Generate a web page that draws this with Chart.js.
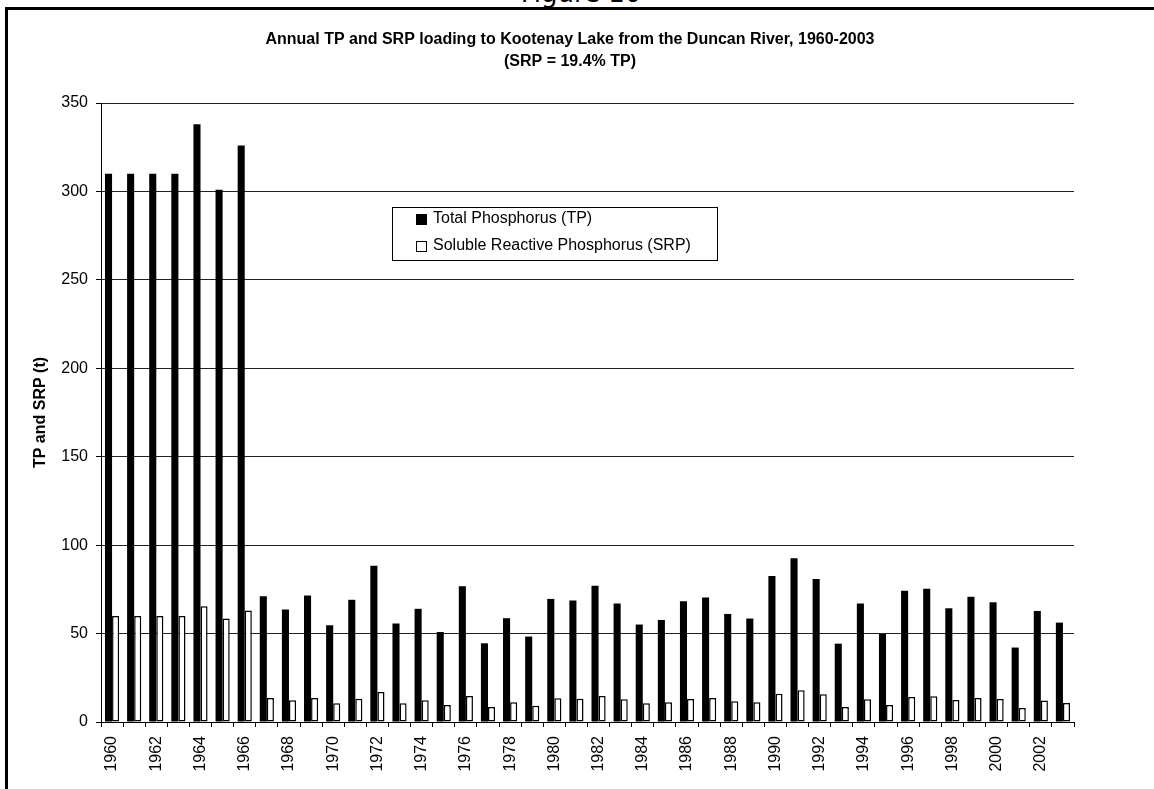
<!DOCTYPE html>
<html>
<head>
<meta charset="utf-8">
<title>Figure 10</title>
<script src="https://cdn.jsdelivr.net/npm/chart.js@4/dist/chart.umd.min.js"></script>
<style>
    body { margin: 0; background: #fff; }
    #wrap { position: relative; width: 1154px; height: 789px; overflow: hidden; }
    #frame { position: absolute; left: 5px; top: 7px; right: -10px; bottom: -10px; border-top: 3px solid #000; border-left: 3px solid #000; }
    #figLabel { position: absolute; left: 481px; width: 200px; top: -20px; text-align: center; font: 26px/26px "DejaVu Sans", sans-serif; color: #000; }
    canvas { position: absolute; left: 0; top: 0; }
</style>
</head>
<body>
<div id="wrap">
    <div id="figLabel">Figure 10</div>
    <div id="frame"></div>
    <canvas id="loadChart" width="1154" height="789"></canvas>
</div>
<script>
// years 1960-2003
const years = ['1960', '1961', '1962', '1963', '1964', '1965', '1966', '1967', '1968', '1969',
    '1970', '1971', '1972', '1973', '1974', '1975', '1976', '1977', '1978', '1979',
    '1980', '1981', '1982', '1983', '1984', '1985', '1986', '1987', '1988', '1989',
    '1990', '1991', '1992', '1993', '1994', '1995', '1996', '1997', '1998', '1999',
    '2000', '2001', '2002', '2003'];

// Total Phosphorus (t)
const tpValues = [310, 310, 310, 310, 338, 301, 326, 71.1, 63.6, 71.5,
    54.7, 69.1, 88.3, 55.7, 64.0, 50.9, 76.8, 44.5, 58.7, 48.3,
    69.6, 68.7, 77.0, 67.0, 55.1, 57.7, 68.3, 70.4, 61.1, 58.5,
    82.5, 92.6, 80.9, 44.3, 67.0, 49.8, 74.2, 75.3, 64.3, 70.8,
    67.7, 42.1, 62.8, 56.2];

// Soluble Reactive Phosphorus (t)
const srpValues = [60, 60, 60, 60, 65.5, 58.5, 63, 13.6, 12.3, 13.6,
    10.6, 13.2, 17.0, 10.6, 12.3, 9.6, 14.7, 8.5, 11.1, 9.2,
    13.4, 13.2, 14.7, 12.8, 10.6, 11.1, 13.0, 13.6, 11.7, 11.1,
    16.0, 17.9, 15.7, 8.5, 12.8, 9.6, 14.2, 14.5, 12.5, 13.6,
    13.0, 7.9, 12.1, 10.8];

const seriesNames = ['Total Phosphorus (TP)', 'Soluble Reactive Phosphorus (SRP)'];
const titleLines = ['Annual TP and SRP loading to Kootenay Lake from the Duncan River, 1960-2003', '(SRP = 19.4% TP)'];
const yTitle = 'TP and SRP (t)';

const fontFamily = '"Liberation Sans", Arial, sans-serif';

// main title: centred on the whole frame, not on the plot, so drawn by hand
const frameTitle = {
    id: 'frameTitle',
    afterDraw(chart) {
        const ctx = chart.ctx;
        ctx.save();
        ctx.fillStyle = '#000';
        ctx.font = 'bold 16px ' + fontFamily;
        ctx.textAlign = 'center';
        ctx.textBaseline = 'middle';
        titleLines.forEach(function (line, i) {
            ctx.fillText(line, 570, 40 + i * 22);
        });
        ctx.restore();
    }
};

// legend drawn in a box inside the plot, like the Excel original
const boxLegend = {
    id: 'boxLegend',
    afterDraw(chart) {
        const ctx = chart.ctx;
        const x = 392, y = 207, w = 325, h = 53;
        ctx.save();
        ctx.fillStyle = '#fff';
        ctx.fillRect(x, y, w, h);
        ctx.strokeStyle = '#000';
        ctx.lineWidth = 1;
        ctx.strokeRect(x + 0.5, y + 0.5, w, h);
        ctx.font = '16px ' + fontFamily;
        ctx.textBaseline = 'middle';
        chart.data.datasets.forEach(function (ds, i) {
            const cy = y + 12 + i * 27;
            ctx.fillStyle = ds.backgroundColor;
            ctx.fillRect(416, cy - 5, 11, 11);
            ctx.strokeStyle = '#000';
            ctx.strokeRect(416.5, cy - 4.5, 10, 10);
            ctx.fillStyle = '#000';
            ctx.fillText(ds.label, 433, cy);
        });
        ctx.restore();
    }
};

const ctx = document.getElementById('loadChart').getContext('2d');
new Chart(ctx, {
    type: 'bar',
    data: {
        labels: years,
        datasets: [{
            label: seriesNames[0],
            data: tpValues,
            backgroundColor: '#000',
            borderWidth: 0
        }, {
            label: seriesNames[1],
            data: srpValues,
            backgroundColor: '#fff',
            borderColor: '#000',
            borderWidth: 1.5,
            borderSkipped: false
        }]
    },
    options: {
        responsive: false,
        animation: false,
        categoryPercentage: 0.64,
        barPercentage: 1.0,
        layout: {
            padding: { left: 0, right: 80, top: 103, bottom: 0 }
        },
        plugins: {
            legend: { display: false },
            tooltip: { enabled: false },
            title: { display: false }
        },
        scales: {
            x: {
                afterFit: function (scale) { scale.height = 67; },
                grid: {
                    display: true,
                    drawOnChartArea: false,
                    offset: true,
                    tickLength: 5,
                    tickColor: '#000'
                },
                border: { color: '#000' },
                ticks: {
                    autoSkip: false,
                    minRotation: 90,
                    maxRotation: 90,
                    padding: 9,
                    color: '#000',
                    font: { family: fontFamily, size: 16 },
                    callback: function (value, index) {
                        return index % 2 === 0 ? this.getLabelForValue(value) : '';
                    }
                }
            },
            y: {
                min: 0,
                max: 350,
                afterFit: function (scale) { scale.width = 101; },
                grid: {
                    color: '#222',
                    tickLength: 5,
                    tickColor: '#000'
                },
                border: { color: '#000' },
                ticks: {
                    stepSize: 50,
                    padding: 8,
                    color: '#000',
                    font: { family: fontFamily, size: 16 }
                },
                title: {
                    display: true,
                    text: yTitle,
                    color: '#000',
                    font: { family: fontFamily, size: 16, weight: 'bold' },
                    padding: { top: 31, bottom: 0 }
                }
            }
        }
    },
    plugins: [frameTitle, boxLegend]
});
</script>
</body>
</html>
